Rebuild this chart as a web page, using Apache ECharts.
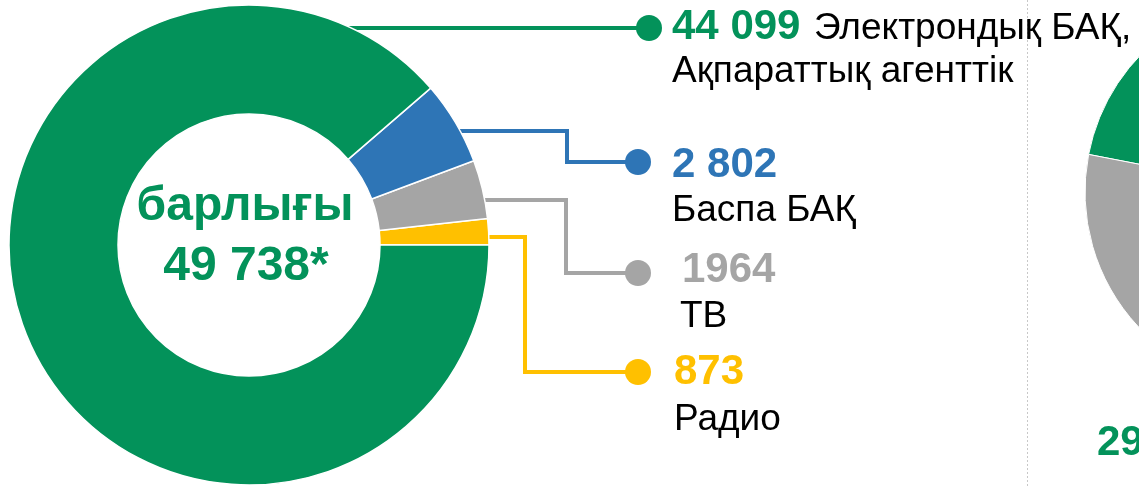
<!DOCTYPE html>
<html>
<head>
<meta charset="utf-8">
<script src="https://cdn.jsdelivr.net/npm/echarts@6/dist/echarts.min.js"></script>
<style>
  html, body { margin: 0; padding: 0; background: #fff; }
  #chart { width: 1139px; height: 487px; }
</style>
</head>
<body>
<div id="chart"></div>
<script>
// data
const categories = ['Электрондық БАҚ,\nАқпараттық агенттік', 'Баспа БАҚ', 'ТВ', 'Радио']
const values = [44099, 2802, 1964, 873]
const valueLabels = ['44 099', '2 802', '1964', '873']
const totalLabel = 'барлығы'
// second (clipped) chart on the right
const rightCategories = ['a', 'b']
const rightValues = [60, 40]
const rightValueLabel = '29'

const colors = ['#03925a', '#2e75b6', '#a5a5a5', '#ffc000']
const font = '"Liberation Sans", Arial, sans-serif'

const total = values.reduce((a, b) => a + b, 0)
const fmt = n => String(n).replace(/\B(?=(\d{3})+(?!\d))/g, ' ')

// leader lines / label placement (styles only)
const layout = [
  { line: [[330, 28], [649, 28]], dot: [649, 28], num: [672, 27], names: [[814, 29], [672, 72]] },
  { line: [[440, 131], [567, 131], [567, 162], [638, 162]], dot: [638, 162], num: [672, 165], names: [[672, 211]] },
  { line: [[470, 200], [566, 200], [566, 273], [638, 273]], dot: [638, 273], num: [682, 270], names: [[680, 317]] },
  { line: [[480, 237], [525, 237], [525, 372], [638, 372]], dot: [638, 372], num: [674, 372], names: [[674, 420]] }
]

const graphics = []
layout.forEach((l, i) => {
  graphics.push({
    type: 'polyline', z: 1,
    shape: { points: l.line },
    style: { stroke: colors[i], lineWidth: 4, fill: null }
  })
  graphics.push({
    type: 'circle', z: 5,
    shape: { cx: l.dot[0], cy: l.dot[1], r: 13 },
    style: { fill: colors[i] }
  })
  graphics.push({
    type: 'text', z: 10, x: l.num[0], y: l.num[1],
    style: {
      text: valueLabels[i], fill: colors[i], font: 'bold 42px ' + font,
      textAlign: 'left', textVerticalAlign: 'middle'
    }
  })
  categories[i].split('\n').forEach((t, j) => {
    graphics.push({
      type: 'text', z: 10, x: l.names[j][0], y: l.names[j][1],
      style: {
        text: t, fill: '#000', font: '37px ' + font,
        textAlign: 'left', textVerticalAlign: 'middle'
      }
    })
  })
})

// centre text
graphics.push({
  type: 'text', z: 10, x: 245, y: 207,
  style: { text: totalLabel, fill: colors[0], font: 'bold 48px ' + font, textAlign: 'center', textVerticalAlign: 'middle' }
})
graphics.push({
  type: 'text', z: 10, x: 246, y: 267,
  style: { text: fmt(total) + '*', fill: colors[0], font: 'bold 48px ' + font, textAlign: 'center', textVerticalAlign: 'middle' }
})

// divider
graphics.push({
  type: 'line', z: 1,
  shape: { x1: 1027.5, y1: 0, x2: 1027.5, y2: 487 },
  style: { stroke: '#c8c8c8', lineWidth: 1, lineDash: [2, 2] }
})
graphics.push({
  type: 'text', z: 10, x: 1097, y: 443,
  style: { text: rightValueLabel, fill: colors[0], font: 'bold 42px ' + font, textAlign: 'left', textVerticalAlign: 'middle' }
})

const chart = echarts.init(document.getElementById('chart'))
chart.setOption({
  animation: false,
  backgroundColor: '#fff',
  graphic: graphics,
  series: [
    {
      type: 'pie',
      center: [249, 245],
      radius: [131, 240],
      startAngle: 0,
      clockwise: false,
      silent: true,
      label: { show: false },
      labelLine: { show: false },
      itemStyle: { borderColor: '#fff', borderWidth: 1.5 },
      data: values.map((v, i) => ({
        name: categories[i], value: v, itemStyle: { color: colors[i] }
      })).reverse()
    },
    {
      type: 'pie',
      center: [1282, 192],
      radius: [0, 197],
      startAngle: 169,
      silent: true,
      label: { show: false },
      labelLine: { show: false },
      itemStyle: { borderColor: '#fff', borderWidth: 1 },
      data: rightValues.map((v, i) => ({
        name: rightCategories[i], value: v, itemStyle: { color: [colors[0], colors[2]][i] }
      }))
    }
  ]
})
</script>
</body>
</html>
